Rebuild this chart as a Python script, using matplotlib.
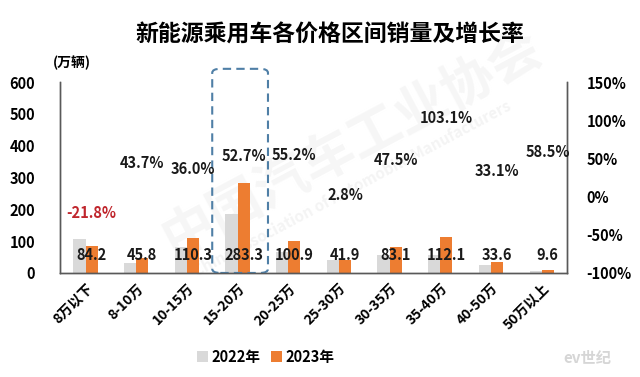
import matplotlib
matplotlib.use('Agg')
import matplotlib.pyplot as plt
from matplotlib.patches import FancyBboxPatch
import numpy as np

plt.rcParams['font.family'] = ['Noto Sans CJK SC', 'DejaVu Sans']
plt.rcParams['font.weight'] = 'bold'

categories = ['8万以下', '8-10万', '10-15万', '15-20万', '20-25万',
              '25-30万', '30-35万', '35-40万', '40-50万', '50万以上']
sales_2022 = [107.7, 31.9, 81.1, 185.5, 65.0, 40.8, 56.3, 55.2, 25.2, 6.1]
sales_2023 = [84.2, 45.8, 110.3, 283.3, 100.9, 41.9, 83.1, 112.1, 33.6, 9.6]
growth = [-21.8, 43.7, 36.0, 52.7, 55.2, 2.8, 47.5, 103.1, 33.1, 58.5]

gray = '#d9d9d9'
orange = '#ed7d31'

fig = plt.figure(figsize=(6.4, 3.77), dpi=100)

# faint watermark behind everything
fig.text(0.55, 0.62, '中国汽车工业协会', ha='center', va='center', fontsize=38,
         color='#f6f6f6', rotation=28, zorder=-5)
fig.text(0.55, 0.5, 'China Association of Automobile Manufacturers', ha='center',
         va='center', fontsize=11, color='#f4f4f4', rotation=28, zorder=-5)

ax = fig.add_axes([0.094, 0.276, 0.792, 0.506])
ax2 = ax.twinx()
ax.patch.set_alpha(0)
ax2.patch.set_alpha(0)

x = np.arange(len(categories))
w = 0.24
ax.bar(x - w / 2, sales_2022, w, color=gray, label='2022年', zorder=2)
ax.bar(x + w / 2, sales_2023, w, color=orange, label='2023年', zorder=2)

ax.set_xlim(-0.5, len(categories) - 0.5)
ax.set_ylim(0, 600)
ax.set_yticks(range(0, 601, 100))
ax2.set_ylim(-100, 150)
ax2.set_yticks(range(-100, 151, 50))
ax2.set_yticklabels([f'{v}%' for v in range(-100, 151, 50)])

for a in (ax, ax2):
    a.spines['top'].set_visible(False)
    for s in ('left', 'right', 'bottom'):
        a.spines[s].set_color('#595959')
        a.spines[s].set_linewidth(1.0)
    a.tick_params(length=0, labelsize=10.5)
ax.tick_params(axis='y', pad=18)
ax2.tick_params(axis='y', pad=14)
ax.set_xticks(x)
ax.set_xticklabels(categories, rotation=45, ha='right', rotation_mode='anchor',
                   fontsize=10)
ax.tick_params(axis='x', pad=6)

# sales value labels (same height for all groups)
for i, v in enumerate(sales_2023):
    ax.text(i + 0.12, 57, f'{v:.1f}', ha='center', va='center', fontsize=10.5,
            color='#1a1a1a', zorder=4)

# growth labels placed on the right axis scale
for i, g in enumerate(growth):
    ax2.text(i + 0.12, g, f'{g:.1f}%', ha='center', va='center', fontsize=10.5,
             color='#c0262d' if g < 0 else '#1a1a1a', zorder=4)

# highlight box around 15-20万
box = FancyBboxPatch((2.5, 0), 1.1, 642, boxstyle='round,pad=0,rounding_size=0.16',
                     mutation_aspect=80, fill=False, ec='#4f7fa6', lw=1.5,
                     ls=(0, (4, 2.5)), zorder=5, clip_on=False)
ax.add_patch(box)

fig.text(0.516, 0.907, '新能源乘用车各价格区间销量及增长率', ha='center', va='center',
         fontsize=16.5, fontweight='bold')
fig.text(0.082, 0.833, '(万辆)', ha='left', va='center', fontsize=10)

fig.text(0.955, 0.05, 'ev世纪', ha='right', va='center', fontsize=11,
         color='#d6d6d6', style='italic')

ax.legend(loc='center', bbox_to_anchor=(0.405, -0.44), ncol=2, frameon=False,
          handlelength=0.8, handleheight=0.8, handletextpad=0.2, columnspacing=0.7,
          fontsize=10.5)

fig.savefig('out.png', dpi=100)
